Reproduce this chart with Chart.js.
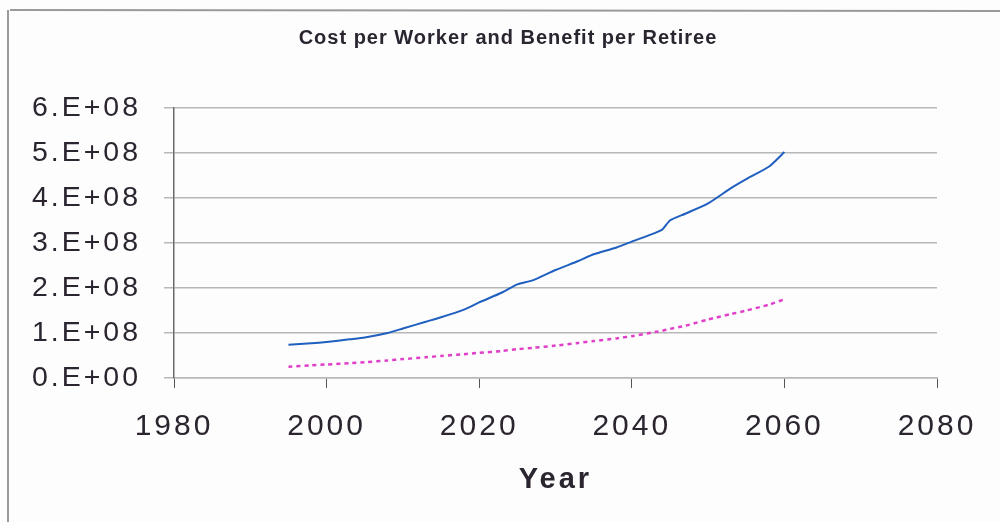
<!DOCTYPE html>
<html>
<head>
<meta charset="utf-8">
<script src="https://cdn.jsdelivr.net/npm/chart.js@4/dist/chart.umd.min.js"></script>
<style>
  html, body { margin: 0; padding: 0; background: #fdfdfd; }
  #wrap { width: 1000px; height: 522px; position: relative; }
</style>
</head>
<body>
<div id="wrap"><canvas id="c" width="1000" height="522"></canvas></div>
<script>
// Projection years
const years = [1995, 1998, 2000, 2003, 2005, 2008, 2010, 2013, 2015, 2018, 2020, 2023, 2025, 2027,
               2030, 2033, 2035, 2038, 2040, 2043, 2044, 2045, 2047, 2050, 2053, 2055, 2058, 2060];
// Cost per worker
const costPerWorker = [0.74e8, 0.77e8, 0.80e8, 0.86e8, 0.90e8, 1.00e8, 1.10e8, 1.25e8, 1.35e8, 1.52e8,
                       1.68e8, 1.90e8, 2.08e8, 2.17e8, 2.40e8, 2.60e8, 2.75e8, 2.90e8, 3.03e8, 3.22e8,
                       3.30e8, 3.50e8, 3.65e8, 3.88e8, 4.22e8, 4.42e8, 4.70e8, 5.02e8];
// Benefit per retiree
const benefitPerRetiree = [0.25e8, 0.28e8, 0.30e8, 0.33e8, 0.35e8, 0.39e8, 0.42e8, 0.46e8, 0.49e8, 0.53e8,
                           0.56e8, 0.60e8, 0.64e8, 0.67e8, 0.72e8, 0.78e8, 0.82e8, 0.88e8, 0.93e8, 1.02e8,
                           1.05e8, 1.09e8, 1.16e8, 1.30e8, 1.42e8, 1.50e8, 1.63e8, 1.75e8];
// Axis ranges and tick labels
const xTicks = [1980, 2000, 2020, 2040, 2060, 2080];
const yTickLabels = ['0.E+00', '1.E+08', '2.E+08', '3.E+08', '4.E+08', '5.E+08', '6.E+08'];
const chartTitle = 'Cost per Worker and Benefit per Retiree';

const FONT = '"Liberation Sans", Arial, sans-serif';
const INK = '#2b2530';
const AXIS_SPACING = '3px';

// Page frame, wide label spacing, and the chart heading
const decor = {
  id: 'decor',
  beforeLayout(chart) { chart.ctx.letterSpacing = AXIS_SPACING; },
  beforeDraw(chart) {
    const ctx = chart.ctx;
    ctx.save();
    ctx.fillStyle = '#fdfdfd';
    ctx.fillRect(0, 0, chart.width, chart.height);
    ctx.strokeStyle = '#9a9a9a';
    ctx.lineWidth = 2;
    ctx.beginPath();
    ctx.moveTo(10, 10); ctx.lineTo(chart.width, 11);
    ctx.moveTo(8, 10); ctx.lineTo(8, chart.height);
    ctx.stroke();
    ctx.restore();
    ctx.letterSpacing = AXIS_SPACING;
  },
  afterDraw(chart) {
    const ctx = chart.ctx;
    ctx.save();
    ctx.letterSpacing = '1px';
    ctx.font = 'bold 20px ' + FONT;
    ctx.fillStyle = INK;
    ctx.textAlign = 'center';
    ctx.textBaseline = 'middle';
    ctx.fillText(chartTitle, 508, 38);
    ctx.restore();
  }
};

new Chart(document.getElementById('c'), {
  type: 'line',
  data: {
    datasets: [
      {
        label: 'Cost per Worker',
        data: years.map((y, i) => ({ x: y, y: costPerWorker[i] })),
        borderColor: '#1f5fc0',
        borderWidth: 2,
        pointRadius: 0,
        tension: 0.2,
        fill: false
      },
      {
        label: 'Benefit per Retiree',
        data: years.map((y, i) => ({ x: y, y: benefitPerRetiree[i] })),
        borderColor: '#e040c8',
        borderWidth: 2.5,
        borderDash: [4, 4],
        pointRadius: 0,
        tension: 0.2,
        fill: false
      }
    ]
  },
  options: {
    responsive: false,
    animation: false,
    layout: { padding: { left: 0, right: 63, top: 108, bottom: 0 } },
    plugins: {
      legend: { display: false },
      tooltip: { enabled: false },
      title: { display: false }
    },
    scales: {
      x: {
        type: 'linear',
        min: xTicks[0],
        max: xTicks[xTicks.length - 1],
        afterBuildTicks(scale) { scale.ticks = xTicks.map(v => ({ value: v })); },
        afterFit(scale) { scale.height = 144; },
        grid: {
          drawOnChartArea: false,
          drawTicks: true,
          tickLength: 10,
          color: '#555'
        },
        border: { color: '#b8b8b8', width: 1.5 },
        ticks: {
          color: INK,
          font: { family: FONT, size: 30 },
          padding: 21,
          maxRotation: 0,
          callback: v => String(v)
        },
        title: {
          display: true,
          text: 'Year',
          color: INK,
          font: { family: FONT, size: 29, weight: 'bold' },
          padding: { top: 0, bottom: 25 }
        }
      },
      y: {
        min: 0,
        max: 6e8,
        afterBuildTicks(scale) { scale.ticks = yTickLabels.map((_, i) => ({ value: i * 1e8 })); },
        afterFit(scale) { scale.width = 174; },
        grid: {
          color: '#b8b8b8',
          lineWidth: 1.5,
          tickLength: 10
        },
        border: { color: '#6a6a6a', width: 1.5 },
        ticks: {
          color: INK,
          font: { family: FONT, size: 28.5 },
          padding: 23,
          callback: v => yTickLabels[Math.round(v / 1e8)]
        }
      }
    }
  },
  plugins: [decor]
});
</script>
</body>
</html>
